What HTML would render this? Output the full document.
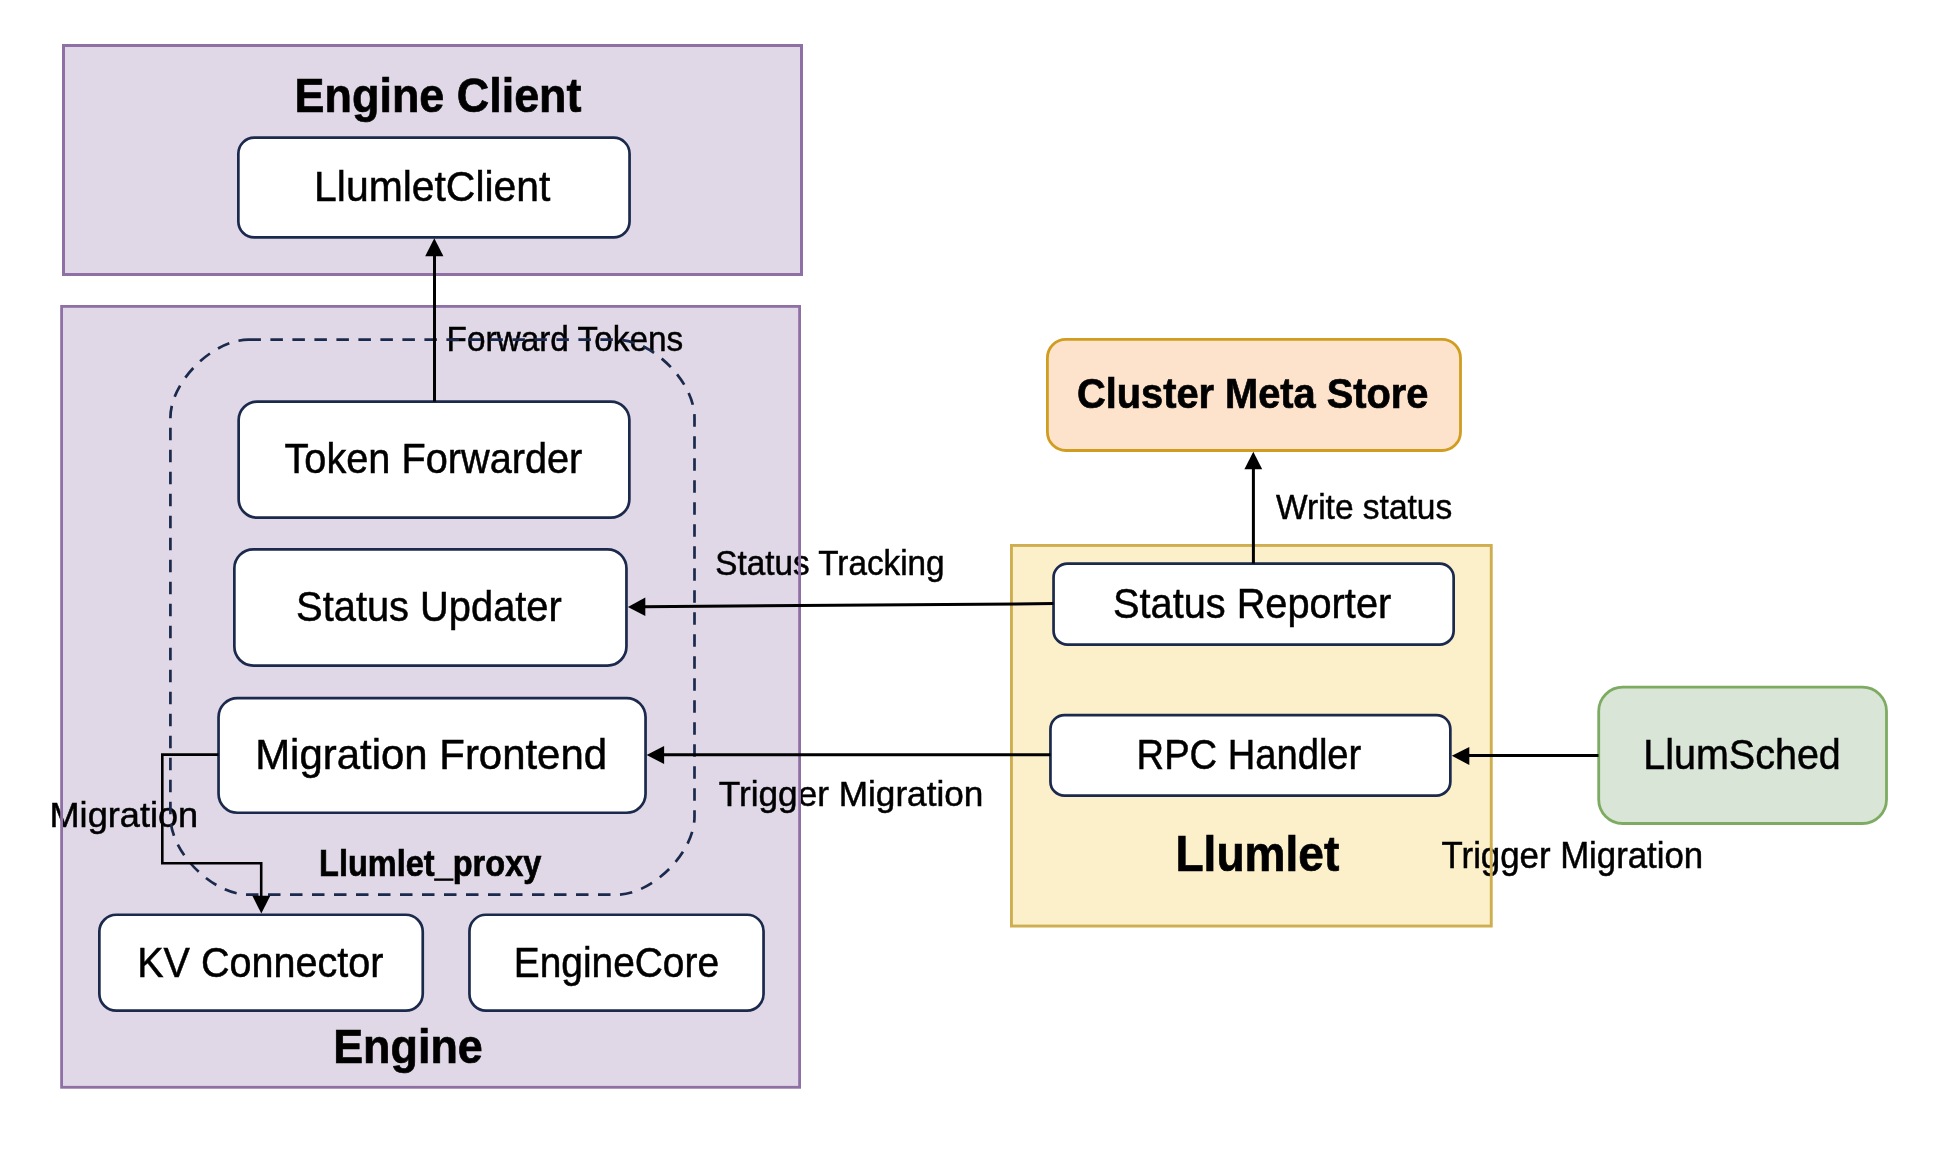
<!DOCTYPE html>
<html><head><meta charset="utf-8"><style>
html,body{margin:0;padding:0;background:#ffffff;width:1948px;height:1172px;overflow:hidden}
svg{display:block;will-change:transform}
text{font-family:"Liberation Sans",sans-serif;fill:#000}
</style></head><body>
<svg width="1948" height="1172" viewBox="0 0 1948 1172">
<rect x="63.50" y="45.50" width="738.00" height="229.00" rx="0" ry="0" fill="#e0d8e7"/>
<rect x="61.60" y="306.40" width="738.00" height="780.90" rx="0" ry="0" fill="#e0d8e7"/>
<rect x="1011.45" y="545.45" width="479.80" height="380.60" rx="0" ry="0" fill="#fcf0ca"/>
<rect x="1047.40" y="339.40" width="413.10" height="111.10" rx="18.5" ry="18.5" fill="#fde3cc"/>
<rect x="1598.70" y="687.20" width="287.80" height="136.30" rx="24" ry="24" fill="#d8e5d7"/>
<rect x="238.35" y="137.65" width="391.20" height="99.80" rx="16" ry="16" fill="#ffffff"/>
<rect x="238.65" y="401.55" width="390.70" height="116.10" rx="18.5" ry="18.5" fill="#ffffff"/>
<rect x="234.35" y="549.35" width="392.10" height="116.20" rx="19" ry="19" fill="#ffffff"/>
<rect x="218.55" y="698.05" width="427.00" height="114.70" rx="19" ry="19" fill="#ffffff"/>
<rect x="99.35" y="914.75" width="323.40" height="95.90" rx="17" ry="17" fill="#ffffff"/>
<rect x="469.45" y="914.75" width="294.10" height="95.80" rx="16.5" ry="16.5" fill="#ffffff"/>
<rect x="1053.55" y="563.55" width="400.10" height="81.10" rx="14" ry="14" fill="#ffffff"/>
<rect x="1050.45" y="715.05" width="399.90" height="80.60" rx="14" ry="14" fill="#ffffff"/>
<text x="294.60" y="111.80" font-size="48.84" font-weight="bold" stroke="#000" stroke-width="0.7" textLength="286.90" lengthAdjust="spacingAndGlyphs">Engine Client</text>
<text x="314.10" y="200.80" font-size="42.01" font-weight="normal" stroke="#000" stroke-width="0.5" textLength="236.30" lengthAdjust="spacingAndGlyphs">LlumletClient</text>
<text x="446.50" y="350.70" font-size="35.76" font-weight="normal" stroke="#000" stroke-width="0.5" textLength="236.70" lengthAdjust="spacingAndGlyphs">Forward Tokens</text>
<text x="284.50" y="472.80" font-size="41.86" font-weight="normal" stroke="#000" stroke-width="0.5" textLength="297.80" lengthAdjust="spacingAndGlyphs">Token Forwarder</text>
<text x="296.10" y="620.70" font-size="42.01" font-weight="normal" stroke="#000" stroke-width="0.5" textLength="265.70" lengthAdjust="spacingAndGlyphs">Status Updater</text>
<text x="255.20" y="768.80" font-size="42.15" font-weight="normal" stroke="#000" stroke-width="0.5" textLength="351.90" lengthAdjust="spacingAndGlyphs">Migration Frontend</text>
<text x="49.50" y="826.80" font-size="35.47" font-weight="normal" stroke="#000" stroke-width="0.5" textLength="148.70" lengthAdjust="spacingAndGlyphs">Migration</text>
<text x="319.10" y="876.20" font-size="36.19" font-weight="bold" stroke="#000" stroke-width="0.7" textLength="222.20" lengthAdjust="spacingAndGlyphs">Llumlet_proxy</text>
<text x="137.20" y="976.80" font-size="42.15" font-weight="normal" stroke="#000" stroke-width="0.5" textLength="246.20" lengthAdjust="spacingAndGlyphs">KV Connector</text>
<text x="513.70" y="976.80" font-size="41.86" font-weight="normal" stroke="#000" stroke-width="0.5" textLength="205.40" lengthAdjust="spacingAndGlyphs">EngineCore</text>
<text x="333.20" y="1062.70" font-size="48.98" font-weight="bold" stroke="#000" stroke-width="0.7" textLength="149.60" lengthAdjust="spacingAndGlyphs">Engine</text>
<text x="1077.00" y="407.90" font-size="42.30" font-weight="bold" stroke="#000" stroke-width="0.7" textLength="351.30" lengthAdjust="spacingAndGlyphs">Cluster Meta Store</text>
<text x="1276.00" y="518.90" font-size="35.90" font-weight="normal" stroke="#000" stroke-width="0.5" textLength="176.20" lengthAdjust="spacingAndGlyphs">Write status</text>
<text x="715.30" y="575.40" font-size="34.59" font-weight="normal" stroke="#000" stroke-width="0.5" textLength="229.30" lengthAdjust="spacingAndGlyphs">Status Tracking</text>
<text x="1113.10" y="617.70" font-size="42.30" font-weight="normal" stroke="#000" stroke-width="0.5" textLength="278.10" lengthAdjust="spacingAndGlyphs">Status Reporter</text>
<text x="1136.60" y="768.80" font-size="41.86" font-weight="normal" stroke="#000" stroke-width="0.5" textLength="224.70" lengthAdjust="spacingAndGlyphs">RPC Handler</text>
<text x="718.80" y="805.70" font-size="35.76" font-weight="normal" stroke="#000" stroke-width="0.5" textLength="264.60" lengthAdjust="spacingAndGlyphs">Trigger Migration</text>
<text x="1643.30" y="768.70" font-size="41.86" font-weight="normal" stroke="#000" stroke-width="0.5" textLength="197.50" lengthAdjust="spacingAndGlyphs">LlumSched</text>
<text x="1175.40" y="870.80" font-size="49.56" font-weight="bold" stroke="#000" stroke-width="0.7" textLength="164.00" lengthAdjust="spacingAndGlyphs">Llumlet</text>
<text x="1441.60" y="867.90" font-size="36.19" font-weight="normal" stroke="#000" stroke-width="0.5" textLength="261.60" lengthAdjust="spacingAndGlyphs">Trigger Migration</text>
<rect x="63.50" y="45.50" width="738.00" height="229.00" rx="0" ry="0" fill="none" stroke="#8f70a5" stroke-width="3"/>
<rect x="61.60" y="306.40" width="738.00" height="780.90" rx="0" ry="0" fill="none" stroke="#8f70a5" stroke-width="2.8"/>
<rect x="1011.45" y="545.45" width="479.80" height="380.60" rx="0" ry="0" fill="none" stroke="#ceae50" stroke-width="2.9"/>
<rect x="1047.40" y="339.40" width="413.10" height="111.10" rx="18.5" ry="18.5" fill="none" stroke="#d09d20" stroke-width="2.8"/>
<rect x="1598.70" y="687.20" width="287.80" height="136.30" rx="24" ry="24" fill="none" stroke="#7eab62" stroke-width="2.8"/>
<rect x="238.35" y="137.65" width="391.20" height="99.80" rx="16" ry="16" fill="none" stroke="#1b2a4c" stroke-width="2.7"/>
<rect x="238.65" y="401.55" width="390.70" height="116.10" rx="18.5" ry="18.5" fill="none" stroke="#1b2a4c" stroke-width="2.7"/>
<rect x="234.35" y="549.35" width="392.10" height="116.20" rx="19" ry="19" fill="none" stroke="#1b2a4c" stroke-width="2.7"/>
<rect x="218.55" y="698.05" width="427.00" height="114.70" rx="19" ry="19" fill="none" stroke="#1b2a4c" stroke-width="2.7"/>
<rect x="99.35" y="914.75" width="323.40" height="95.90" rx="17" ry="17" fill="none" stroke="#1b2a4c" stroke-width="2.7"/>
<rect x="469.45" y="914.75" width="294.10" height="95.80" rx="16.5" ry="16.5" fill="none" stroke="#1b2a4c" stroke-width="2.7"/>
<rect x="1053.55" y="563.55" width="400.10" height="81.10" rx="14" ry="14" fill="none" stroke="#1b2a4c" stroke-width="2.7"/>
<rect x="1050.45" y="715.05" width="399.90" height="80.60" rx="14" ry="14" fill="none" stroke="#1b2a4c" stroke-width="2.7"/>
<path d="M248.4,339.7 L616.5,339.7 C652.38,339.7 694.5,381.82 694.5,417.7 L694.5,816.7 C694.5,852.58 652.38,894.7 616.5,894.7 L248.4,894.7 C212.52,894.7 170.4,852.58 170.4,816.7 L170.4,417.7 C170.4,381.82 212.52,339.7 248.4,339.7 Z" fill="none" stroke="#1b2a4c" stroke-width="2.7" stroke-dasharray="12.5 9.5"/>
<path d="M434.5,401.5 L434.5,254" fill="none" stroke="#000000" stroke-width="3" stroke-linejoin="miter"/>
<path d="M434.3,238.2 L425.2,256.2 L443.4,256.2 Z" fill="#000000"/>
<path d="M1053.5,603.6 L643,606.8" fill="none" stroke="#000000" stroke-width="3" stroke-linejoin="miter"/>
<path d="M627.9,606.9 L645.3,597.5 L645.3,616 Z" fill="#000000"/>
<path d="M1050.5,754.8 L662,754.8" fill="none" stroke="#000000" stroke-width="3" stroke-linejoin="miter"/>
<path d="M646.6,755 L664.1,746 L664.1,764 Z" fill="#000000"/>
<path d="M1598.5,755.6 L1467,755.6" fill="none" stroke="#000000" stroke-width="3" stroke-linejoin="miter"/>
<path d="M1451.8,755.8 L1469.3,747 L1469.3,765 Z" fill="#000000"/>
<path d="M1253.4,563.5 L1253.4,466" fill="none" stroke="#000000" stroke-width="3" stroke-linejoin="miter"/>
<path d="M1253.3,451.7 L1244.4,469.2 L1262.2,469.2 Z" fill="#000000"/>
<path d="M218.5,754.6 L162.3,754.6 L162.3,863.2 L261.2,863.2 L261.2,898" fill="none" stroke="#000000" stroke-width="2.6" stroke-linejoin="miter"/>
<path d="M261.3,913.6 L252.4,895.8 L270.3,895.8 Z" fill="#000000"/>
</svg>
</body></html>
